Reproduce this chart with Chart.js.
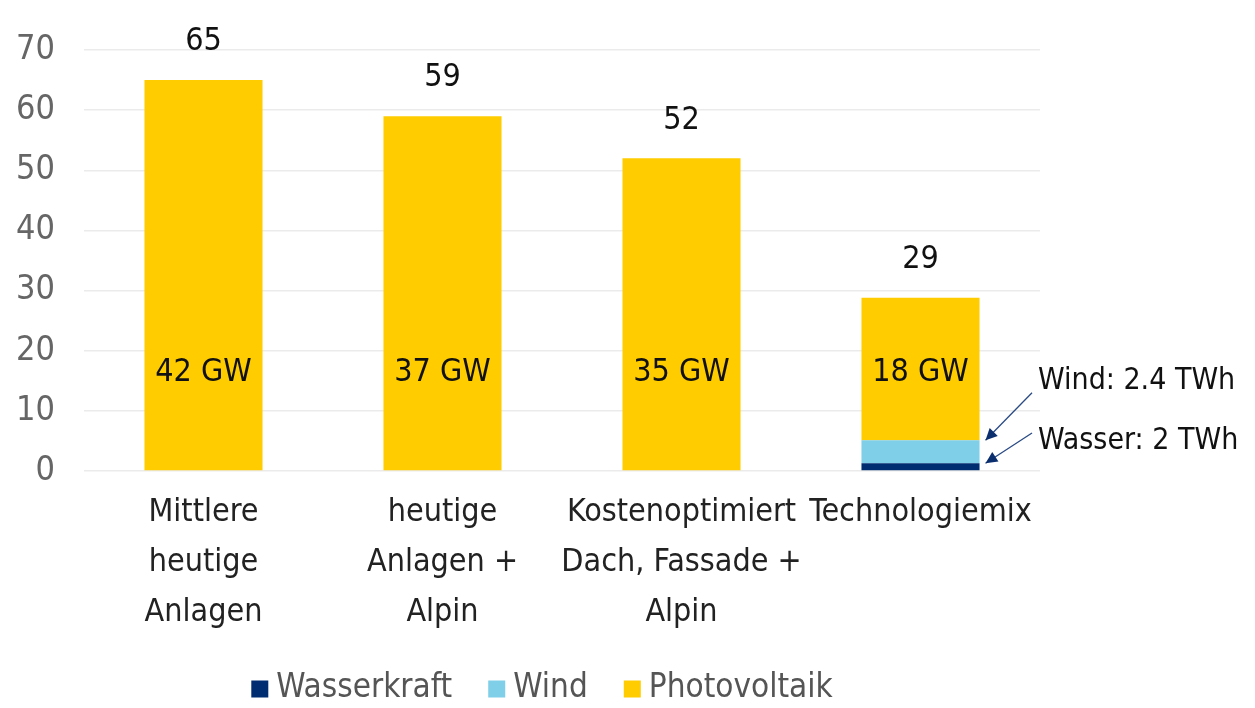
<!DOCTYPE html>
<html>
<head>
<meta charset="utf-8">
<script src="https://cdn.jsdelivr.net/npm/chart.js@4/dist/chart.umd.min.js"></script>
<style>
  html, body { margin: 0; padding: 0; background: #fff; }
  #wrap { width: 1255px; height: 708px; position: relative; }
</style>
</head>
<body>
<div id="wrap"><canvas id="chart"></canvas></div>
<script>
// ---------- Data ----------

const categories = [
    ["Mittlere", "heutige", "Anlagen"],
    ["heutige", "Anlagen +", "Alpin"],
    ["Kostenoptimiert", "Dach, Fassade +", "Alpin"],
    ["Technologiemix"]
];

const wasserkraft = [0, 0, 0, 1.3];
const wind = [0, 0, 0, 3.8];
const photovoltaik = [65, 59, 52, 23.7];

const totalLabels = ["65", "59", "52", "29"];
const capacityLabels = ["42 GW", "37 GW", "35 GW", "18 GW"];

const yTicks = { min: 0, max: 70, step: 10 };

const notes = [
    { text: "Wind: 2.4 TWh", labelValue: 15, tipValue: 5.1 },
    { text: "Wasser: 2 TWh", labelValue: 5, tipValue: 1.3 }
];

const FONT = "'Liberation Sans Narrow', 'DejaVu Sans Condensed', sans-serif";

// -------- Label plugin --------

const labelPlugin = {
    id: "labels",
    afterDatasetsDraw(chart) {
        const ctx = chart.ctx;
        const y = chart.scales.y;
        const last = chart.getDatasetMeta(2);

        ctx.save();
        ctx.font = "32px " + FONT;
        ctx.textAlign = "center";
        ctx.textBaseline = "middle";
        ctx.fillStyle = "#111";

        last.data.forEach((bar, i) => {
            ctx.fillText(totalLabels[i], bar.x, bar.y - 38);
            ctx.fillText(capacityLabels[i], bar.x, y.getPixelForValue(16.3));
        });

        // notes with arrows for the small segments
        const idx = categories.length - 1;
        const bar = last.data[idx];
        const right = bar.x + bar.width / 2;
        const textX = chart.chartArea.right - 2;

        ctx.font = "30px " + FONT;
        ctx.textAlign = "left";
        notes.forEach((n, k) => {
            const ty = y.getPixelForValue(n.labelValue);
            ctx.fillStyle = "#111";
            ctx.fillText(n.text, textX, ty);

            const tipX = right + 6;
            const tipY = y.getPixelForValue(n.tipValue);
            const tailX = textX - 6;
            const tailY = k === 0 ? ty + 12 : ty - 8;

            ctx.strokeStyle = "#2a4a85";
            ctx.lineWidth = 1.3;
            ctx.beginPath();
            ctx.moveTo(tailX, tailY);
            ctx.lineTo(tipX, tipY);
            ctx.stroke();

            const ang = Math.atan2(tipY - tailY, tipX - tailX);
            const len = 13, half = 0.45;
            ctx.fillStyle = "#0b2e6e";
            ctx.beginPath();
            ctx.moveTo(tipX, tipY);
            ctx.lineTo(tipX - len * Math.cos(ang - half), tipY - len * Math.sin(ang - half));
            ctx.lineTo(tipX - len * Math.cos(ang + half), tipY - len * Math.sin(ang + half));
            ctx.closePath();
            ctx.fill();
        });

        // legend, drawn by hand for wider gaps between entries
        ctx.font = "33px " + FONT;
        ctx.textAlign = "left";
        const box = 17, gap = 8, spacing = 36;
        const items = chart.data.datasets.map(ds => ({
            label: ds.label,
            color: ds.backgroundColor,
            w: box + gap + ctx.measureText(ds.label).width
        }));
        const total = items.reduce((s, it) => s + it.w, 0) + spacing * (items.length - 1);
        let lx = 542 - total / 2;
        const ly = 688;
        items.forEach(it => {
            ctx.fillStyle = it.color;
            ctx.fillRect(lx, ly - box / 2 + 1, box, box);
            ctx.fillStyle = "#555";
            ctx.fillText(it.label, lx + box + gap, ly);
            lx += it.w + spacing;
        });

        ctx.restore();
    }
};

// -------- Chart --------

new Chart(document.getElementById("chart"), {

    type: "bar",

    data: {
        labels: categories,
        datasets: [
            { label: "Wasserkraft", data: wasserkraft, backgroundColor: "#002d72" },
            { label: "Wind", data: wind, backgroundColor: "#80cfe8" },
            { label: "Photovoltaik", data: photovoltaik, backgroundColor: "#ffcc00" }
        ]
    },

    options: {
        responsive: true,
        maintainAspectRatio: false,
        animation: false,
        layout: {
            padding: { left: 0, right: 215, top: 50, bottom: 49 }
        },
        datasets: {
            bar: { barPercentage: 0.494, categoryPercentage: 1 }
        },
        plugins: {
            tooltip: { enabled: false },
            legend: { display: false }
        },
        scales: {
            x: {
                stacked: true,
                afterFit(scale) { scale.height = 188; },
                grid: { display: false },
                border: { display: false },
                ticks: {
                    color: "#222",
                    font: { family: FONT, size: 32, lineHeight: 1.5625 },
                    padding: 9,
                    maxRotation: 0,
                    autoSkip: false
                }
            },
            y: {
                stacked: true,
                min: yTicks.min,
                max: yTicks.max,
                afterFit(scale) { scale.width = 84; },
                grid: { color: "#ebebeb", lineWidth: 1.5, drawTicks: false },
                border: { display: false },
                ticks: {
                    stepSize: yTicks.step,
                    color: "#666",
                    font: { family: FONT, size: 34 },
                    padding: 29
                }
            }
        }
    },

    plugins: [labelPlugin]

});
</script>
</body>
</html>
